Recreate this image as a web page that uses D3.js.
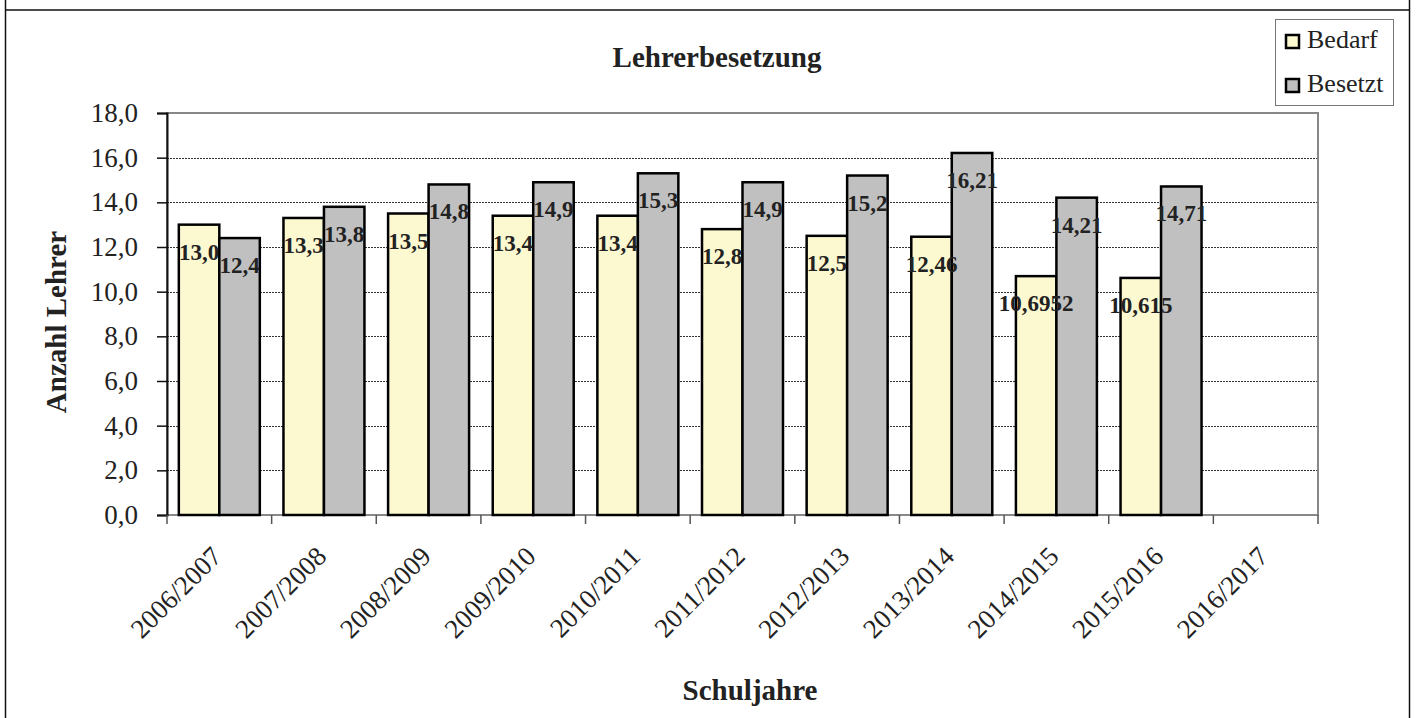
<!DOCTYPE html>
<html>
<meta charset="utf-8">

<head>
    <style>
        body {
            margin: 0;
            background: #fff;
        }

        text {
            font-family: "Liberation Serif", "DejaVu Serif", serif;
            fill: #222;
        }

        .grid line {
            stroke: #333;
            stroke-width: 1;
            stroke-dasharray: 2, 1;
        }

        .label {
            font-size: 23px;
            font-weight: bold;
        }
    </style>
</head>

<body>
    <script src="https://d3js.org/d3.v7.min.js"></script>

    <script>
        // chart data
        const years = ["2006/2007", "2007/2008", "2008/2009", "2009/2010", "2010/2011", "2011/2012",
            "2012/2013", "2013/2014", "2014/2015", "2015/2016", "2016/2017"];
        const bedarf = [13.0, 13.3, 13.5, 13.4, 13.4, 12.8, 12.5, 12.46, 10.6952, 10.615, null];
        const besetzt = [12.4, 13.8, 14.8, 14.9, 15.3, 14.9, 15.2, 16.21, 14.21, 14.71, null];
        const seriesNames = ["Bedarf", "Besetzt"];
        const seriesColors = ["#fcf9d0", "#c0c0c0"];
        const yTicks = [0, 2, 4, 6, 8, 10, 12, 14, 16, 18];

        const W = 1418, H = 718;
        const plot = { left: 167, right: 1318, top: 113, bottom: 515 };

        const svg = d3.select("body")
            .append("svg")
            .attr("width", W)
            .attr("height", H);

        // german number format
        const de = d3.formatLocale({ decimal: ",", thousands: ".", grouping: [3], currency: ["", " €"] });
        const fmt1 = de.format(".1f");
        function labelText(v) {
            if (Math.abs(v * 10 - Math.round(v * 10)) < 1e-9) return fmt1(v);
            return String(v).replace(".", ",");
        }

        // outer frame
        svg.append("line").attr("x1", 5).attr("x2", 1410).attr("y1", 10).attr("y2", 10)
            .attr("stroke", "#111").attr("stroke-width", 1.5);
        svg.append("line").attr("x1", 5.5).attr("x2", 5.5).attr("y1", 0).attr("y2", H)
            .attr("stroke", "#111").attr("stroke-width", 1.5);
        svg.append("line").attr("x1", 1409.5).attr("x2", 1409.5).attr("y1", 0).attr("y2", H)
            .attr("stroke", "#111").attr("stroke-width", 1.5);

        // scales
        const x0 = d3.scaleBand()
            .domain(years)
            .range([plot.left, plot.right])
            .paddingInner(0.226)
            .paddingOuter(0.113);
        const x1 = d3.scaleBand()
            .domain(seriesNames)
            .range([0, x0.bandwidth()]);
        const y = d3.scaleLinear()
            .domain([0, 18])
            .range([plot.bottom, plot.top]);
        const color = d3.scaleOrdinal().domain(seriesNames).range(seriesColors);

        // gridlines
        svg.append("g")
            .attr("class", "grid")
            .selectAll("line")
            .data(yTicks.slice(1, -1))
            .join("line")
            .attr("x1", plot.left)
            .attr("x2", plot.right)
            .attr("y1", d => Math.round(y(d)) + 0.5)
            .attr("y2", d => Math.round(y(d)) + 0.5);

        // plot border
        svg.append("rect")
            .attr("x", plot.left)
            .attr("y", plot.top)
            .attr("width", plot.right - plot.left)
            .attr("height", plot.bottom - plot.top)
            .attr("fill", "none")
            .attr("stroke", "#888")
            .attr("stroke-width", 2);

        // y axis
        const yAxis = svg.append("g")
            .attr("transform", "translate(" + plot.left + ",0)")
            .call(d3.axisLeft(y).tickValues(yTicks).tickFormat(fmt1).tickSize(10).tickPadding(19));
        yAxis.select(".domain").attr("stroke", "#111").attr("stroke-width", 2);
        yAxis.selectAll(".tick line").attr("stroke", "#111").attr("stroke-width", 1.5);
        yAxis.selectAll("text")
            .attr("fill", "#333")
            .style("font-family", "Liberation Serif")
            .style("font-size", "27px");

        // x axis ticks at category boundaries
        const bounds = d3.range(years.length + 1).map(i => x0.step() * i + plot.left);
        svg.append("g")
            .selectAll("line")
            .data(bounds)
            .join("line")
            .attr("x1", d => d)
            .attr("x2", d => d)
            .attr("y1", plot.bottom)
            .attr("y2", plot.bottom + 9)
            .attr("stroke", "#555")
            .attr("stroke-width", 1.5);

        // x tick labels
        svg.append("g")
            .selectAll("text")
            .data(years)
            .join("text")
            .attr("text-anchor", "end")
            .attr("transform", d => "translate(" + (x0(d) + x0.bandwidth() / 2 + 4) + "," + (plot.bottom + 43) + ") rotate(-45)")
            .style("font-size", "27px")
            .attr("fill", "#222")
            .text(d => d);

        // bars
        const rows = years.map((yr, i) => ({ year: yr, values: [bedarf[i], besetzt[i]] }));
        const groups = svg.append("g")
            .selectAll("g")
            .data(rows)
            .join("g")
            .attr("transform", d => "translate(" + x0(d.year) + ",0)");

        groups.selectAll("rect")
            .data(d => d.values.map((v, j) => ({ key: seriesNames[j], value: v })).filter(e => e.value != null))
            .join("rect")
            .attr("x", d => x1(d.key))
            .attr("y", d => y(d.value))
            .attr("width", x1.bandwidth())
            .attr("height", d => plot.bottom - y(d.value))
            .attr("fill", d => color(d.key))
            .attr("stroke", "#000")
            .attr("stroke-width", 2.5);

        // data labels
        groups.selectAll("text")
            .data(d => d.values.map((v, j) => ({ key: seriesNames[j], value: v })).filter(e => e.value != null))
            .join("text")
            .attr("class", "label")
            .attr("text-anchor", "middle")
            .attr("x", d => x1(d.key) + x1.bandwidth() / 2)
            .attr("y", d => y(d.value) + 35)
            .text(d => labelText(d.value));

        // title and axis titles
        svg.append("text")
            .attr("x", 717)
            .attr("y", 67)
            .attr("text-anchor", "middle")
            .style("font-size", "29px")
            .style("font-weight", "bold")
            .text("Lehrerbesetzung");

        svg.append("text")
            .attr("transform", "translate(66,322) rotate(-90)")
            .attr("text-anchor", "middle")
            .style("font-size", "29px")
            .style("font-weight", "bold")
            .text("Anzahl Lehrer");

        svg.append("text")
            .attr("x", 750)
            .attr("y", 700)
            .attr("text-anchor", "middle")
            .style("font-size", "29px")
            .style("font-weight", "bold")
            .text("Schuljahre");

        // legend
        const legend = svg.append("g");
        legend.append("rect")
            .attr("x", 1275.5)
            .attr("y", 19.5)
            .attr("width", 118)
            .attr("height", 86)
            .attr("fill", "#fff")
            .attr("stroke", "#777")
            .attr("stroke-width", 1);

        const items = legend.selectAll("g.item")
            .data(seriesNames)
            .join("g")
            .attr("class", "item")
            .attr("transform", (d, i) => "translate(1286," + (48 + i * 44) + ")");
        items.append("rect")
            .attr("x", 0)
            .attr("y", -13)
            .attr("width", 13)
            .attr("height", 13)
            .attr("fill", d => color(d))
            .attr("stroke", "#000")
            .attr("stroke-width", 2.5);
        items.append("text")
            .attr("x", 21)
            .attr("y", 0)
            .style("font-size", "26px")
            .text(d => d);
    </script>

</body>

</html>
